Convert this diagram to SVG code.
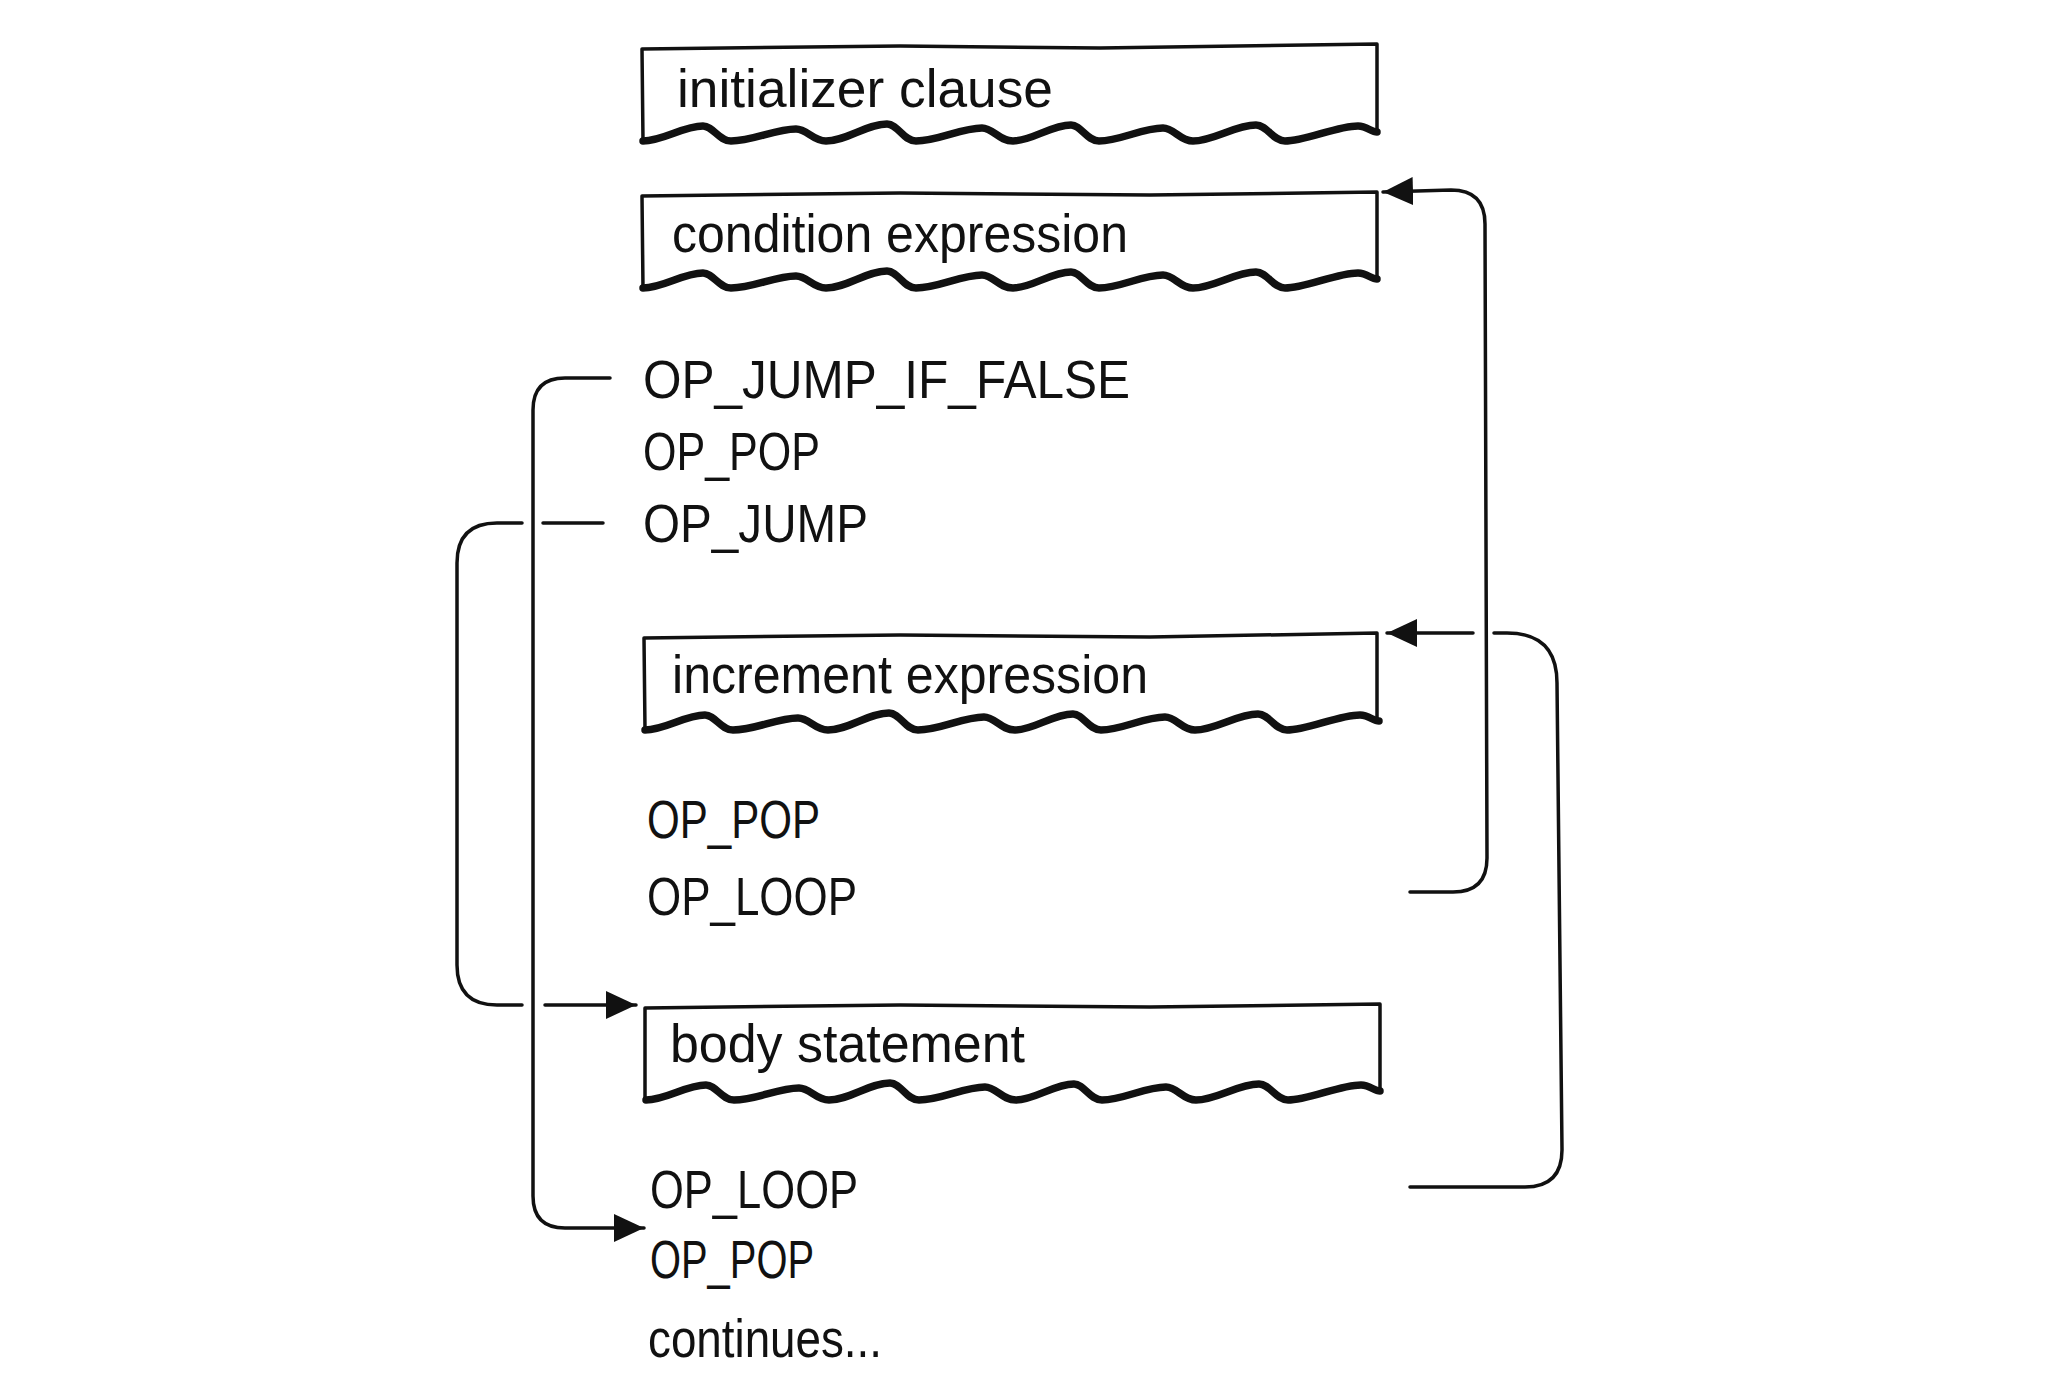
<svg xmlns="http://www.w3.org/2000/svg" width="2046" height="1384" viewBox="0 0 2046 1384">
  <style>
    .box { fill: none; stroke: #111; stroke-width: 3.5; stroke-linejoin: round; stroke-linecap: round; }
    .wave { fill: none; stroke: #111; stroke-width: 7.5; stroke-linejoin: round; stroke-linecap: round; }
    .conn { fill: none; stroke: #111; stroke-width: 3.5; stroke-linejoin: round; stroke-linecap: round; }
    .t { font-family: "Liberation Sans", Arial, sans-serif; font-size: 54px; fill: #111; }
  </style>
  <defs>
    <path id="wave" d="M0,0 C20,0 40,-15 60,-15 C70,-15 76,0 88,0 C110,0 132,-12 153,-12 C164,-12 170,0 183,0 C203,0 224,-17 244,-17 C255,-17 260,0 273,0 C295,0 318,-13 339,-13 C350,-13 356,0 370,0 C389,0 408,-16 428,-16 C438,-16 444,0 456,0 C477,0 499,-13 520,-13 C531,-13 537,0 550,0 C570,0 592,-16 613,-16 C624,-16 630,0 642,0 C662,0 694,-15 715,-15 C724,-15 728,-9 734,-9"/>
    <marker id="ah" markerUnits="userSpaceOnUse" markerWidth="32" markerHeight="32" refX="30" refY="16" orient="auto">
      <path d="M0,2 L30,16 L0,30 Z" fill="#111"/>
    </marker>
  </defs>
  <rect width="2046" height="1384" fill="#fff"/>

  <g id="initializer">
    <path class="box" d="M643,141 L642,49 L900,46 L1100,48 L1377,44 L1377,132"/>
    <use href="#wave" class="wave" transform="translate(643,141)"/>
    <text class="t" x="677" y="107" textLength="376" lengthAdjust="spacingAndGlyphs">initializer clause</text>
  </g>

  <g id="condition">
    <path class="box" d="M643,288 L642,196 L900,193 L1150,195 L1377,192 L1377,279"/>
    <use href="#wave" class="wave" transform="translate(643,288)"/>
    <text class="t" x="672" y="252" textLength="456" lengthAdjust="spacingAndGlyphs">condition expression</text>
  </g>

  <g id="op-jump-if-false">
    <text class="t" x="643" y="398" textLength="487" lengthAdjust="spacingAndGlyphs">OP_JUMP_IF_FALSE</text>
  </g>
  <g id="op-pop-1">
    <text class="t" x="643" y="470" textLength="177" lengthAdjust="spacingAndGlyphs">OP_POP</text>
  </g>
  <g id="op-jump">
    <text class="t" x="643" y="542" textLength="225" lengthAdjust="spacingAndGlyphs">OP_JUMP</text>
  </g>

  <g id="increment">
    <path class="box" d="M645,730 L644,638 L900,635 L1150,637 L1377,633 L1377,721"/>
    <use href="#wave" class="wave" transform="translate(645,730)"/>
    <text class="t" x="672" y="693" textLength="476" lengthAdjust="spacingAndGlyphs">increment expression</text>
  </g>

  <g id="op-pop-2">
    <text class="t" x="647" y="838" textLength="173" lengthAdjust="spacingAndGlyphs">OP_POP</text>
  </g>
  <g id="op-loop-1">
    <text class="t" x="647" y="915" textLength="210" lengthAdjust="spacingAndGlyphs">OP_LOOP</text>
  </g>

  <g id="body">
    <path class="box" d="M645,1100 L645,1008 L900,1005 L1150,1007 L1380,1004 L1380,1091"/>
    <use href="#wave" class="wave" transform="translate(646,1100)"/>
    <text class="t" x="670" y="1062" textLength="355" lengthAdjust="spacingAndGlyphs">body statement</text>
  </g>

  <g id="op-loop-2">
    <text class="t" x="650" y="1208" textLength="208" lengthAdjust="spacingAndGlyphs">OP_LOOP</text>
  </g>
  <g id="op-pop-3">
    <text class="t" x="650" y="1278" textLength="164" lengthAdjust="spacingAndGlyphs">OP_POP</text>
  </g>
  <g id="continues">
    <text class="t" x="648" y="1357" textLength="234" lengthAdjust="spacingAndGlyphs">continues...</text>
  </g>

  <g id="connectors">
    <!-- OP_JUMP_IF_FALSE to OP_POP after loop -->
    <path class="conn" marker-end="url(#ah)" d="M610,378 L565,378 Q533,378 533,410 L533,1196 Q533,1228 565,1228 L644,1228"/>
    <!-- OP_JUMP to body statement -->
    <path class="conn" d="M603,523 L543,523"/>
    <path class="conn" d="M522,523 L497,523 Q457,523 457,563 L457,965 Q457,1005 497,1005 L522,1005"/>
    <path class="conn" marker-end="url(#ah)" d="M545,1005 L636,1005"/>
    <!-- OP_LOOP after increment to condition -->
    <path class="conn" marker-end="url(#ah)" d="M1410,892 L1453,892 Q1487,892 1487,858 L1485,224 Q1485,190 1451,190 L1383,192"/>
    <!-- OP_LOOP after body to increment -->
    <path class="conn" d="M1410,1187 L1525,1187 Q1562,1187 1562,1150 L1557,683 Q1557,633 1507,633 L1494,633"/>
    <path class="conn" marker-end="url(#ah)" d="M1473,633 L1387,633"/>
  </g>
</svg>
